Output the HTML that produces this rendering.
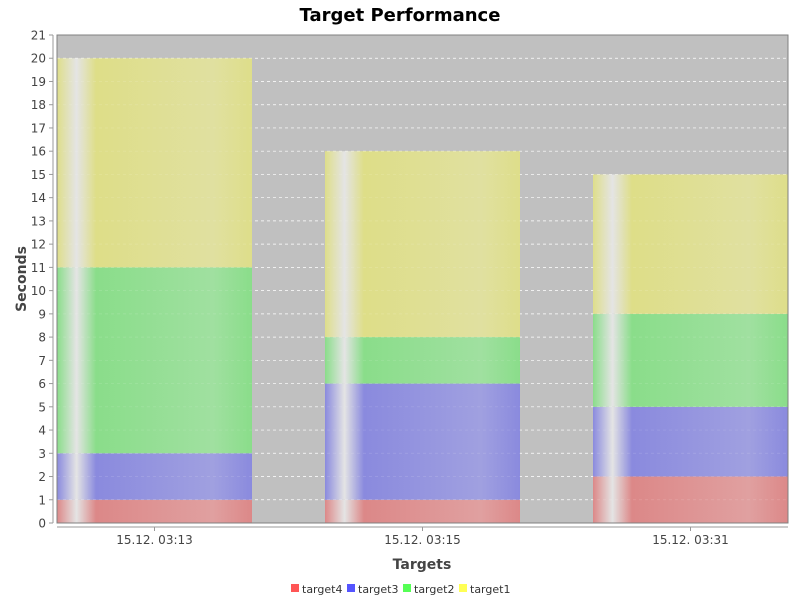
<!DOCTYPE html>
<html><head><meta charset="utf-8"><style>body{margin:0;background:#fff}svg{display:block;font-family:"DejaVu Sans","Liberation Sans",sans-serif}</style></head>
<body>
<svg id="chart" width="800" height="600">
<defs>
<linearGradient id="g-target4" x1="0" x2="1" y1="0" y2="0"><stop offset="0" stop-color="#dc8888"/><stop offset="0.1" stop-color="#e4e4e4"/><stop offset="0.2" stop-color="#dc8888"/><stop offset="0.8" stop-color="#e0a0a0"/><stop offset="1" stop-color="#dc8888"/></linearGradient>
<linearGradient id="g-target3" x1="0" x2="1" y1="0" y2="0"><stop offset="0" stop-color="#8a8ade"/><stop offset="0.1" stop-color="#e4e4e4"/><stop offset="0.2" stop-color="#8a8ade"/><stop offset="0.8" stop-color="#a0a0e0"/><stop offset="1" stop-color="#8a8ade"/></linearGradient>
<linearGradient id="g-target2" x1="0" x2="1" y1="0" y2="0"><stop offset="0" stop-color="#8add8a"/><stop offset="0.1" stop-color="#e4e4e4"/><stop offset="0.2" stop-color="#8add8a"/><stop offset="0.8" stop-color="#a0e0a0"/><stop offset="1" stop-color="#8add8a"/></linearGradient>
<linearGradient id="g-target1" x1="0" x2="1" y1="0" y2="0"><stop offset="0" stop-color="#dede8a"/><stop offset="0.1" stop-color="#e4e4e4"/><stop offset="0.2" stop-color="#dede88"/><stop offset="0.8" stop-color="#e0e0a0"/><stop offset="1" stop-color="#dede8a"/></linearGradient>
</defs>
<text x="400" y="21" text-anchor="middle" font-size="18" font-weight="bold" fill="#000">Target Performance</text>
<rect x="57" y="35" width="731" height="488" fill="#c0c0c0"/>
<g id="grid"></g><g id="bars"></g><g id="grid2" opacity="0.15"></g>
<rect x="57" y="35" width="731" height="488" fill="none" stroke="#808080" stroke-width="1"/>
<line x1="53" y1="35" x2="53" y2="523" stroke="#999"/>
<line x1="57" y1="527" x2="788" y2="527" stroke="#999"/>
<g id="yticks"></g><g id="xticks"></g>
<text x="26" y="279" text-anchor="middle" font-size="14" font-weight="bold" fill="#444" transform="rotate(-90 26 279)">Seconds</text>
<text x="422" y="569" text-anchor="middle" font-size="14" font-weight="bold" fill="#444">Targets</text>
<g id="legend"></g>
</svg>
<script>
const categories = ["15.12. 03:13", "15.12. 03:15", "15.12. 03:31"];
const seriesNames = ["target4", "target3", "target2", "target1"];
const target4 = [1, 1, 2];
const target3 = [2, 5, 3];
const target2 = [8, 2, 4];
const target1 = [9, 8, 6];
const yTicks = [0,1,2,3,4,5,6,7,8,9,10,11,12,13,14,15,16,17,18,19,20,21];
const legendColors = ["#ff5555","#5555ff","#55ff55","#ffff55"];

const NS="http://www.w3.org/2000/svg";
const L=57,R=788,T=35,B=523,yMax=21;
const y=v=>B-(v/yMax)*(B-T);
function mk(tag,attrs,parent){const e=document.createElementNS(NS,tag);for(const k in attrs)e.setAttribute(k,attrs[k]);parent.appendChild(e);return e;}
const grid=document.getElementById('grid'),grid2=document.getElementById('grid2'),yt=document.getElementById('yticks');
yTicks.forEach(v=>{
  if(v>0&&v<yMax){
    [grid,grid2].forEach(g=>{const l=mk('line',{x1:L,x2:R,y1:y(v),y2:y(v),stroke:'#fff','stroke-width':0.7,'stroke-dasharray':'3,3'},g);
    
    });
  }
  const tk=mk('line',{x1:49,x2:53,y1:y(v),y2:y(v),stroke:'#999'},yt);
  
  
  const t=mk('text',{x:46,y:y(v)+4.5,'text-anchor':'end','font-size':12,fill:'#444'},yt);
  t.textContent=v;
  
  
});
const series=[target4,target3,target2,target1];
const bars=document.getElementById('bars'),xt=document.getElementById('xticks');
const barWidth=195, step=(R-L-barWidth)/(categories.length-1);
categories.forEach((c,i)=>{
  const x=L+i*step; let base=0;
  series.forEach((s,j)=>{
    const r=mk('rect',{x:x,y:y(base+s[i]),width:barWidth,height:y(base)-y(base+s[i]),fill:'url(#g-'+seriesNames[j]+')'},bars);
    
    
    base+=s[i];
  });
  const cx=x+barWidth/2;
  const tk=mk('line',{x1:cx,x2:cx,y1:527,y2:531,stroke:'#999'},xt);
  
  
  const t=mk('text',{x:cx,y:544,'text-anchor':'middle','font-size':12,fill:'#444'},xt);
  t.textContent=c;
  
  
});
const lg=document.getElementById('legend');
const lx=[291,347,403,459];
seriesNames.forEach((n,j)=>{
  const g=mk('g',{},lg);
  
  
  mk('rect',{x:lx[j],y:584,width:8,height:8,fill:legendColors[j]},g);
  const t=mk('text',{x:lx[j]+11,y:593,'font-size':11,fill:'#333'},g);
  t.textContent=n;
});
</script>
</body></html>
